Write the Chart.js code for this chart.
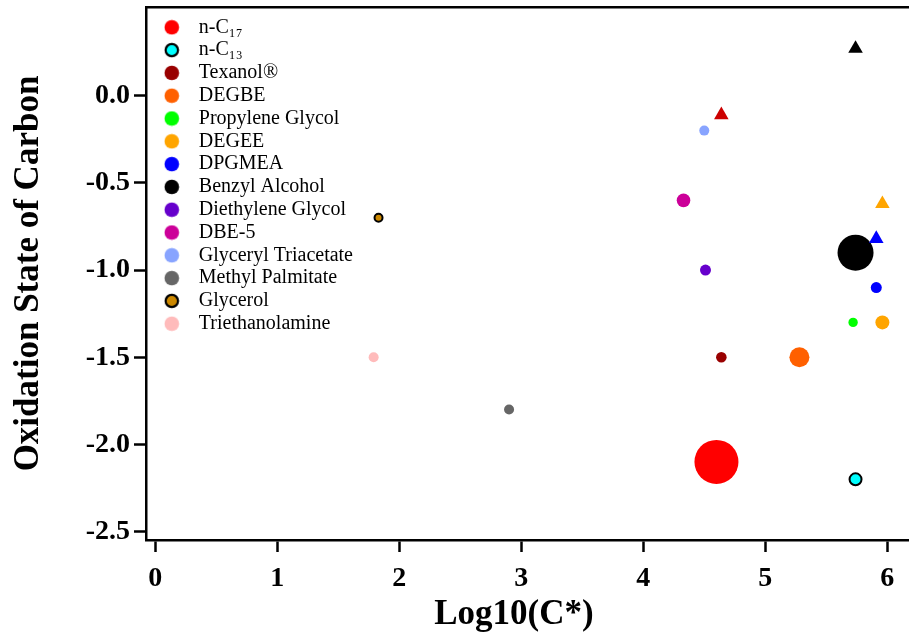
<!DOCTYPE html>
<html>
<head>
<meta charset="utf-8">
<script src="https://cdn.jsdelivr.net/npm/chart.js@4.4.1/dist/chart.umd.min.js"></script>
<style>
  html, body { margin: 0; padding: 0; background: #fff; }
  #wrap { width: 910px; height: 637px; }
</style>
</head>
<body>
<div id="wrap"><canvas id="chart"></canvas></div>
<script>
// compounds (circles)
const compounds = ['n-C₁₇', 'n-C₁₃', 'Texanol®', 'DEGBE', 'Propylene Glycol', 'DEGEE', 'DPGMEA',
  'Benzyl Alcohol', 'Diethylene Glycol', 'DBE-5', 'Glyceryl Triacetate', 'Methyl Palmitate',
  'Glycerol', 'Triethanolamine'];
const logCstar = [4.60, 5.74, 4.64, 5.28, 5.72, 5.96, 5.91, 5.74, 4.51, 4.33, 4.50, 2.90, 1.83, 1.79];
const oxState = [-2.10, -2.20, -1.50, -1.50, -1.30, -1.30, -1.10, -0.90, -1.00, -0.60, -0.20, -1.80, -0.70, -1.50];

// the triangles (no legend entry)
const triLogCstar = [4.64, 5.74, 5.96, 5.91];
const triOxState = [-0.11, 0.27, -0.62, -0.82];

const xTicks = [0, 1, 2, 3, 4, 5, 6];
const yTicks = [0, -0.5, -1, -1.5, -2, -2.5];

// styles
const colors = ['#ff0000', '#00ffff', '#990000', '#ff6000', '#00ff00', '#ffa500', '#0000ff',
  '#000000', '#6600cc', '#cc0099', '#88a4ff', '#666666', '#cc8800', '#ffbbbb'];
const radii = [22, 7, 5.3, 10, 4.7, 7, 5.5, 18, 5.5, 6.8, 5, 5, 5, 5];
const outlined = ['n-C₁₃', 'Glycerol'];
const triColors = ['#cc0000', '#000000', '#ffa500', '#0000ff'];

const serif = "'Liberation Serif', 'Times New Roman', serif";

function legendDot(fill, outline) {
  const c = document.createElement('canvas');
  c.width = 16; c.height = 16;
  const g = c.getContext('2d');
  g.beginPath();
  g.arc(8, 8, outline ? 6.2 : 7.3, 0, Math.PI * 2);
  g.fillStyle = fill;
  g.fill();
  if (outline) {
    g.lineWidth = 2.2;
    g.strokeStyle = '#000';
    g.stroke();
  }
  return c;
}
const dots = compounds.map((name, i) => legendDot(colors[i], outlined.includes(name)));

const datasets = compounds.map((name, i) => {
  const ring = outlined.includes(name);
  return {
    label: name,
    data: [{x: logCstar[i], y: oxState[i]}],
    backgroundColor: colors[i],
    borderColor: '#000',
    borderWidth: ring ? 2 : 0,
    pointRadius: ring ? radii[i] - 1 : radii[i],
    pointHoverRadius: ring ? radii[i] - 1 : radii[i],
    order: 1
  };
});
datasets.push({
  label: 'triangles',
  data: triLogCstar.map((x, i) => ({x: x, y: triOxState[i]})),
  pointStyle: 'triangle',
  backgroundColor: triColors,
  borderWidth: 0,
  pointRadius: 8.4,
  pointHoverRadius: 8.4,
  order: 0
});

// put the legend inside the plot, top-left
const moveLegend = {
  id: 'moveLegend',
  afterLayout(chart) {
    const lg = chart.legend;
    lg.left = 152;
    lg.top = 14.5;
  }
};

// no extra room for tick labels sticking out
const noPad = s => { s.paddingTop = 0; s.paddingBottom = 0; s.paddingLeft = 0; s.paddingRight = 0; };

const tickFont = {family: serif, size: 28, weight: 'bold'};
const titleFont = {family: serif, size: 35, weight: 'bold'};

new Chart(document.getElementById('chart'), {
  type: 'scatter',
  data: { datasets: datasets },
  options: {
    responsive: true,
    maintainAspectRatio: false,
    animation: false,
    layout: { autoPadding: false, padding: {top: 7, right: 2, left: 0, bottom: 0} },
    plugins: {
      tooltip: { enabled: false },
      legend: {
        position: 'chartArea',
        align: 'start',
        labels: {
          usePointStyle: true,
          pointStyleWidth: 34,
          boxHeight: 14,
          padding: 2.8,
          color: '#000',
          font: {family: serif, size: 20},
          generateLabels: chart => Chart.defaults.plugins.legend.labels.generateLabels(chart)
            .filter(item => item.datasetIndex < compounds.length)
            .map(item => Object.assign(item, {pointStyle: dots[item.datasetIndex], lineWidth: 0}))
        }
      }
    },
    scales: {
      x: {
        type: 'linear',
        position: 'bottom',
        min: -0.076,
        max: 6.17,
        afterFit: s => { s.height = 97; noPad(s); },
        afterBuildTicks: s => { s.ticks = xTicks.map(v => ({value: v})); },
        border: {color: '#000', width: 2.5},
        grid: {drawOnChartArea: false, drawTicks: true, tickLength: 12, tickWidth: 2.5, tickColor: '#000'},
        ticks: {color: '#000', font: tickFont, padding: 10, callback: v => String(v)},
        title: {display: true, text: 'Log10(C*)   ', color: '#000', font: titleFont, padding: {top: 0, bottom: 1}}
      },
      xTop: {
        type: 'linear',
        position: 'top',
        afterFit: s => { s.height = 0; noPad(s); },
        ticks: {display: false},
        grid: {display: false},
        border: {display: true, color: '#000', width: 2.5}
      },
      y: {
        type: 'linear',
        min: -2.548,
        max: 0.509,
        afterFit: s => { s.width = 146; noPad(s); },
        afterBuildTicks: s => { s.ticks = yTicks.map(v => ({value: v})); },
        border: {color: '#000', width: 2.5},
        grid: {drawOnChartArea: false, drawTicks: true, tickLength: 12, tickWidth: 2.5, tickColor: '#000'},
        ticks: {color: '#000', font: tickFont, padding: 4, callback: v => v.toFixed(1)},
        title: {display: true, text: 'Oxidation State of Carbon', color: '#000', font: titleFont, padding: {top: 8, bottom: 0}}
      }
    }
  },
  plugins: [moveLegend]
});
</script>
</body>
</html>
